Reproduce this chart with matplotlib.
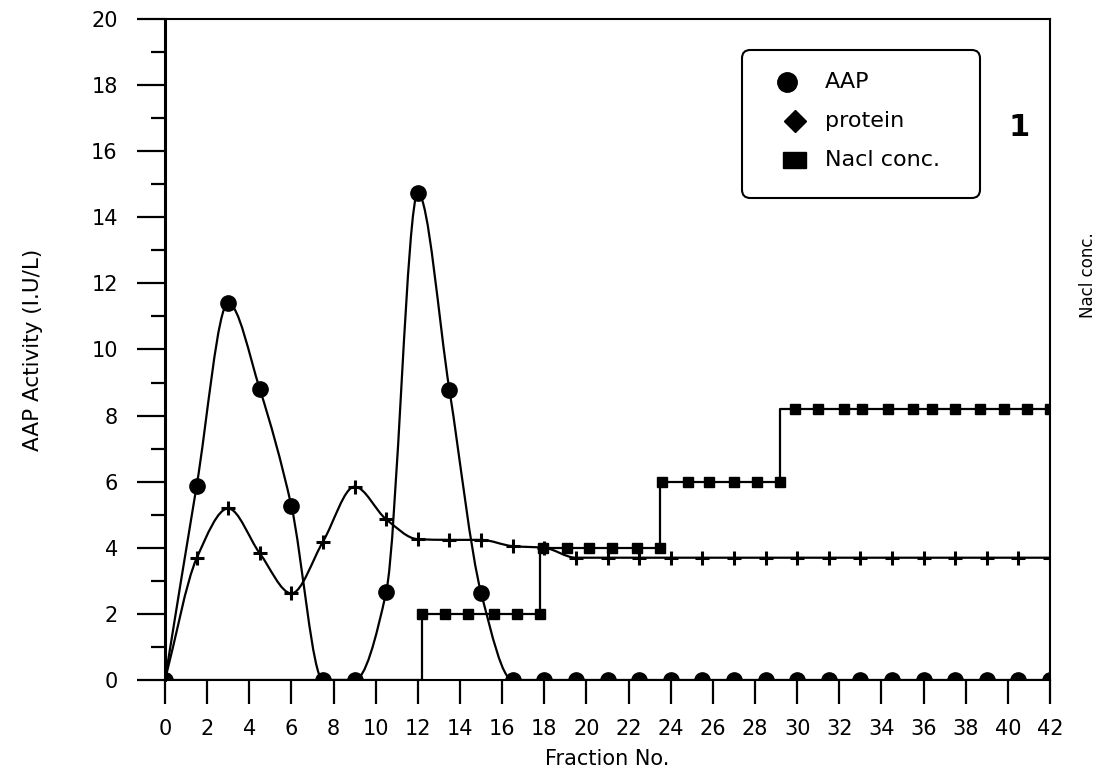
import numpy as np
import matplotlib
matplotlib.use("Agg")
import matplotlib.pyplot as plt
from matplotlib.path import Path
from matplotlib.patches import PathPatch, FancyBboxPatch, Rectangle
from matplotlib.lines import Line2D

# fraction numbers and readings taken off the chart
frac = [0, 1.5, 3, 4.5, 6, 7.5, 9, 10.5, 12, 13.5, 15, 16.5, 18, 19.5, 21, 22.5,
        24, 25.5, 27, 28.5, 30, 31.5, 33, 34.5, 36, 37.5, 39, 40.5, 42]
aap = [0, 5.87, 11.4, 8.8, 5.26, 0, 0, 2.67, 14.73, 8.77, 2.64, 0, 0, 0, 0, 0,
       0, 0, 0, 0, 0, 0, 0, 0, 0, 0, 0, 0, 0]
protein = [0, 3.68, 5.19, 3.83, 2.62, 4.19, 5.85, 4.86, 4.26, 4.24, 4.24, 4.05, 4.0,
           3.7, 3.7, 3.7, 3.7, 3.7, 3.7, 3.7, 3.7, 3.7, 3.7, 3.7, 3.7, 3.7, 3.7, 3.7, 3.7]

# NaCl step gradient (first two points are the zero baseline, no markers)
nacl_x = [0, 12.2, 12.2, 13.3, 14.4, 15.6, 16.7, 17.8, 17.95, 19.1, 20.1, 21.2, 22.4,
          23.5, 23.6, 24.8, 25.8, 27.0, 28.1, 29.2, 29.9, 31.0, 32.2, 33.1, 34.3,
          35.5, 36.4, 37.5, 38.7, 39.8, 40.9, 42.0]
nacl_y = [0, 0, 2, 2, 2, 2, 2, 2, 4, 4, 4, 4, 4, 4, 6, 6, 6, 6, 6, 6,
          8.2, 8.2, 8.2, 8.2, 8.2, 8.2, 8.2, 8.2, 8.2, 8.2, 8.2, 8.2]

x_ticks = list(range(0, 43, 2))
y_ticks = list(range(0, 21, 2))


def smooth_path(x, y):
    # monotone cubic through the points, drawn as bezier segments
    x = np.asarray(x, float)
    y = np.asarray(y, float)
    h = np.diff(x)
    d = np.diff(y) / h
    m = np.zeros_like(y)
    m[0], m[-1] = d[0], d[-1]
    for i in range(1, len(x) - 1):
        if d[i - 1] * d[i] <= 0:
            m[i] = 0
        else:
            w1 = 2 * h[i] + h[i - 1]
            w2 = h[i] + 2 * h[i - 1]
            m[i] = (w1 + w2) / (w1 / d[i - 1] + w2 / d[i])
    verts = [(x[0], y[0])]
    codes = [Path.MOVETO]
    for i in range(len(h)):
        verts += [(x[i] + h[i] / 3, y[i] + m[i] * h[i] / 3),
                  (x[i + 1] - h[i] / 3, y[i + 1] - m[i + 1] * h[i] / 3),
                  (x[i + 1], y[i + 1])]
        codes += [Path.CURVE4] * 3
    return Path(verts, codes)


W, H = 1107, 774
fig = plt.figure(figsize=(W / 100, H / 100), dpi=100)
ax = fig.add_axes([165 / W, 1 - 680 / H, 885 / W, 661 / H])

# curves
ax.add_patch(PathPatch(smooth_path(frac, aap), fill=False, lw=1.6, ec="black"))
ax.add_patch(PathPatch(smooth_path(frac, protein), fill=False, lw=1.6, ec="black"))
ax.plot(frac, aap, "o", color="black", ms=11)
ax.plot(frac, protein, "+", color="black", ms=10, mew=2.2)

# NaCl steps
ax.plot(nacl_x, nacl_y, color="black", lw=1.6, drawstyle="steps-pre")
ax.plot(nacl_x[2:], nacl_y[2:], "s", color="black", ms=6.5)

ax.set_xlim(0, 42)
ax.set_ylim(0, 20)
ax.set_xticks(x_ticks)
ax.set_xticklabels([str(t) for t in x_ticks])
ax.set_yticks(y_ticks)
ax.set_yticks(range(0, 21), minor=True)
ax.tick_params(axis="y", which="major", direction="out", length=20, width=1.6,
               pad=14, labelsize=15)
ax.tick_params(axis="y", which="minor", direction="out", length=10, width=1.6)
ax.tick_params(axis="x", which="major", direction="out", length=17, width=1.6,
               pad=11, labelsize=15)
for side in ["top", "right", "bottom"]:
    ax.spines[side].set_linewidth(1.5)
ax.spines["left"].set_linewidth(2.2)

ax.set_xlabel("Fraction No.", fontsize=15)
ax.xaxis.set_label_coords(0.5, -0.104)
ax.set_ylabel("AAP Activity (I.U/L)", fontsize=15.5)
ax.yaxis.set_label_coords(-0.138, 0.5)

fig.text(1088 / W, 1 - 275 / H, "Nacl conc.", rotation=90, ha="center",
         va="center", fontsize=12)
fig.text(1019 / W, 1 - 128 / H, "1", ha="center", va="center",
         fontsize=22, fontweight="bold")

# legend box drawn by hand to match the original layout
box = FancyBboxPatch((742 / W, 1 - 198 / H), 238 / W, 148 / H,
                     boxstyle="round,pad=0,rounding_size=0.0075",
                     mutation_aspect=W / H, transform=fig.transFigure,
                     fill=False, lw=1.5, ec="black")
fig.add_artist(box)
fig.add_artist(Line2D([787 / W], [1 - 82 / H], marker="o", ms=14, color="black",
                      transform=fig.transFigure))
fig.add_artist(Line2D([795 / W], [1 - 121 / H], marker="D", ms=11, color="black",
                      transform=fig.transFigure))
fig.add_artist(Rectangle((783 / W, 1 - 168 / H), 23 / W, 16 / H, color="black",
                         transform=fig.transFigure))
for yy, lab in [(82, "AAP"), (121, "protein"), (160, "Nacl conc.")]:
    fig.text(825 / W, 1 - yy / H, lab, ha="left", va="center", fontsize=16)

fig.savefig("out.png", dpi=100)
